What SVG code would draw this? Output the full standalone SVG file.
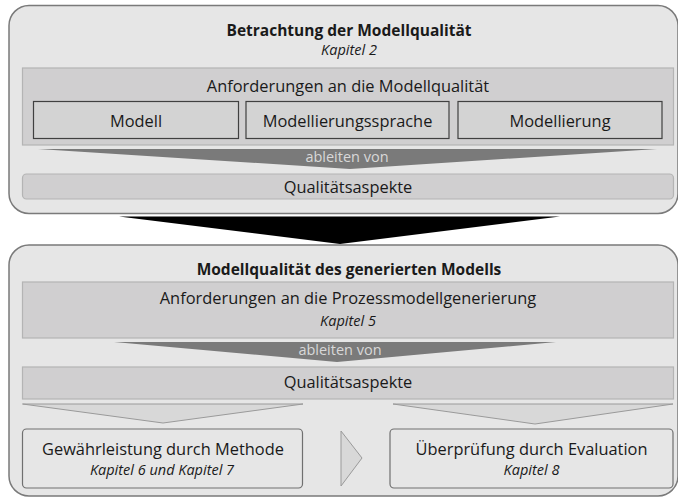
<svg xmlns="http://www.w3.org/2000/svg" width="678" height="498" viewBox="0 0 678 498">
<style>
text{font-family:"Open Sans","Noto Sans","Liberation Sans",sans-serif;fill:#1a1a1a;text-anchor:middle}
.t{font-weight:bold;font-size:15.5px}
.r{font-size:16.4px}
.i{font-style:italic;font-size:14.5px}
.a{font-size:14.5px;fill:#d8d8d8}
.outer{fill:#e6e6e6;stroke:#7a7a7a;stroke-width:1.5}
.band{fill:#d0cfd0;stroke:#b4b4b4;stroke-width:1.2}
.sub{fill:#d3d3d3;stroke:#404040;stroke-width:1.2}
.res{fill:#e6e6e6;stroke:#707070;stroke-width:1.2}
.wedge{fill:#7a7a7a}
.down{fill:#d8d8d8;stroke:#9a9a9a;stroke-width:1}
</style>
<g id="top">
<rect class="outer" x="9" y="5.5" width="669" height="208" rx="20"/>
<text class="t" x="349" y="36">Betrachtung der Modellqualität</text>
<text class="i" x="349" y="55">Kapitel 2</text>
</g>
<g id="anf1">
<rect class="band" x="22.5" y="68" width="651" height="77"/>
<text class="r" x="348" y="92">Anforderungen an die Modellqualität</text>
</g>
<g id="modell"><rect class="sub" x="33.5" y="101.5" width="205" height="37"/><text class="r" x="136" y="127">Modell</text></g>
<g id="sprache"><rect class="sub" x="246" y="101.5" width="203" height="37"/><text class="r" x="347.5" y="127">Modellierungssprache</text></g>
<g id="modellierung"><rect class="sub" x="458" y="101.5" width="204" height="37"/><text class="r" x="560" y="127">Modellierung</text></g>
<g id="qa1">
<rect class="band" x="22.5" y="174" width="651" height="25" rx="4"/>
<text class="r" x="348" y="193">Qualitätsaspekte</text>
</g>
<g id="bottom">
<rect class="outer" x="9" y="245" width="669" height="251" rx="20"/>
<text class="t" x="349" y="275">Modellqualität des generierten Modells</text>
</g>
<g id="anf2">
<rect class="band" x="22.5" y="282" width="651" height="56"/>
<text class="r" x="348" y="304">Anforderungen an die Prozessmodellgenerierung</text>
<text class="i" x="348" y="326">Kapitel 5</text>
</g>
<g id="qa2">
<rect class="band" x="22.5" y="367" width="651" height="32"/>
<text class="r" x="348" y="388">Qualitätsaspekte</text>
</g>
<g id="methode">
<rect class="res" x="22.5" y="429" width="280" height="59" rx="4"/>
<text class="r" x="163" y="455">Gewährleistung durch Methode</text>
<text class="i" x="162" y="475">Kapitel 6 und Kapitel 7</text>
</g>
<g id="evaluation">
<rect class="res" x="390" y="429" width="283" height="59" rx="4"/>
<text class="r" x="531.5" y="455">Überprüfung durch Evaluation</text>
<text class="i" x="531.5" y="475">Kapitel 8</text>
</g>
<g id="connectors">
<polygon class="wedge" points="38,149 657,149 350,169"/>
<text class="a" x="347" y="162">ableiten von</text>
<polygon fill="#000" points="119,216.5 560,216.5 340,244"/>
<polygon class="wedge" points="114,342 556,342 337,362"/>
<text class="a" x="340" y="355">ableiten von</text>
<polygon class="down" points="22.5,404 303,404 163,423"/>
<polygon class="down" points="393,404 673,404 535,424"/>
<polygon class="down" points="341,431 362,458 341,486"/>
</g>
</svg>
